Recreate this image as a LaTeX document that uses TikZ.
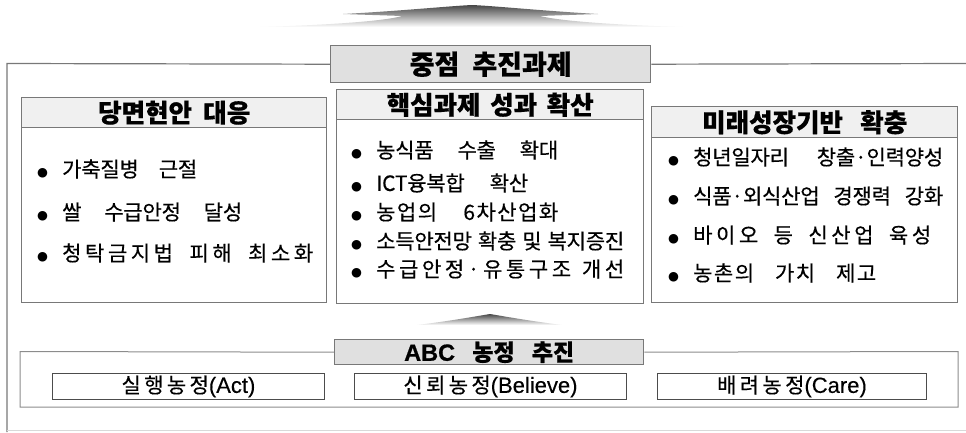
\documentclass[tikz,border=0pt]{standalone}
\usepackage{fontspec}
\setmainfont{Noto Sans CJK KR}
\newfontfamily\itemfam[LetterSpace=-1,WordSpace=1,FakeBold=0.4]{Noto Sans CJK KR}
\newfontfamily\widefam[LetterSpace=7,WordSpace=1,FakeBold=0.4]{Noto Sans CJK KR}
\newfontfamily\widerfam[LetterSpace=17,WordSpace=1,FakeBold=0.4]{Noto Sans CJK KR}
\newfontfamily\hdrfam[WordSpace=1,FakeBold=0.5]{Noto Sans CJK KR}
\newfontfamily\subfam[LetterSpace=16,FakeBold=0.35]{Noto Sans CJK KR}
\newfontfamily\latfam[FakeBold=0.3]{Liberation Sans}
\newfontfamily\latbfam[FakeBold=0.6]{Liberation Sans}
\newfontfamily\bulfam{DejaVu Sans}
\usetikzlibrary{shadings}
\newcommand{\itemfnt}{\itemfam\fontsize{21}{23}\selectfont}
\newcommand{\widefnt}{\widefam\fontsize{21}{23}\selectfont}
\newcommand{\widerfnt}{\widerfam\fontsize{21}{23}\selectfont}
\newcommand{\hdrfnt}{\hdrfam\fontsize{25.5}{27}\selectfont\bfseries}
\newcommand{\ttlfnt}{\hdrfam\fontsize{27}{29}\selectfont\bfseries}
\newcommand{\abcfnt}{\hdrfam\fontsize{23}{25}\selectfont\bfseries}
\newcommand{\subfnt}{\subfam\fontsize{21}{23}\selectfont}
\newcommand{\lat}[1]{{\latfam\fontsize{22}{24}\selectfont #1}}
\newcommand{\latb}[1]{{\latbfam\bfseries\fontsize{23.5}{25}\selectfont #1}}
\newcommand{\bul}{\makebox[25pt][l]{\bulfam\fontsize{12.5}{14}\selectfont ●}}
\newcommand{\fitw}[2]{\makebox[#1][s]{#2}}
\definecolor{hdrgray}{HTML}{F0F0F0}
\definecolor{ttlgray}{HTML}{E0E0E0}
\definecolor{lnegray}{HTML}{787878}
\begin{document}
\begin{tikzpicture}[x=1pt,y=-1pt,
  frameline/.style={draw=lnegray, line width=1.2pt},
  boxshape/.style={draw=lnegray, line width=1.4pt, anchor=north west, inner sep=0pt, fill=white},
  hdrbox/.style={boxshape, fill=hdrgray, font=\hdrfnt},
  ttlbox/.style={boxshape, fill=ttlgray, font=\ttlfnt},
  subbox/.style={draw=black!70, line width=0.9pt, anchor=north west, inner sep=0pt, font=\subfnt},
  itemtext/.style={anchor=west, inner sep=0pt, font=\itemfnt},
  widetext/.style={anchor=west, inner sep=0pt, font=\widefnt},
  widertext/.style={anchor=west, inner sep=0pt, font=\widerfnt},
  bigarrow/.style={top color=black!72, bottom color=white, draw=none}
]
\useasboundingbox (0,0) rectangle (966,432);

% top gradient arrow
\shade[bigarrow] (260,27) .. controls (330,25) and (385,21) .. (402,16) -- (343,14)
  .. controls (400,11) and (450,6) .. (472,5) .. controls (495,6) and (545,11) .. (598,14)
  -- (540,16) .. controls (560,21) and (615,25) .. (683,27) -- cycle;

% main title
\node[ttlbox, minimum width=320pt, minimum height=37pt] (ttl) at (330,45) {\fitw{162pt}{중점 추진과제}};
\coordinate (fTL) at (7,63.5);
\coordinate (fBL) at (7,432);
\coordinate (fTR) at (966,63.5);
\draw[frameline] (ttl.west) -- (fTL) -- (fBL);
\draw[frameline] (ttl.east) -- (fTR);
\coordinate (bL) at (7,430.5);
\coordinate (bR) at (966,430.5);
\draw[draw=black!15, line width=1pt] (bL) -- (bR);

% left box
\node[boxshape, minimum width=305pt, minimum height=205pt] (L) at (21,97) {};
\node[hdrbox, minimum width=305pt, minimum height=30pt] (Lh) at (21,97) {\fitw{152pt}{당면현안 대응}};
\node[itemtext] (L1) at (37,169) {\bul\fitw{135pt}{가축질병 근절}};
\node[itemtext] (L2) at (37,212) {\bul\fitw{180pt}{쌀 수급안정 달성}};
\node[widertext] (L3) at (37,253) {\bul\fitw{251pt}{청탁금지법 피해 최소화}};

% middle box
\node[boxshape, minimum width=307pt, minimum height=214pt] (M) at (336,89) {};
\node[hdrbox, minimum width=307pt, minimum height=30pt] (Mh) at (336,89) {\fitw{207pt}{핵심과제 성과 확산}};
\node[itemtext] (M1) at (351,150) {\bul\fitw{182pt}{농식품 수출 확대}};
\node[itemtext] (M2) at (351,183) {\bul\fitw{152pt}{ICT융복합 확산}};
\node[widetext] (M3) at (351,212) {\bul\fitw{182pt}{농업의 6차산업화}};
\node[itemtext] (M4) at (351,241) {\bul\fitw{248pt}{소득안전망 확충 및 복지증진}};
\node[widertext] (M5) at (351,269) {\bul\fitw{248pt}{수급안정·유통구조 개선}};

% right box
\node[boxshape, minimum width=306pt, minimum height=196pt] (R) at (651,106) {};
\node[hdrbox, minimum width=306pt, minimum height=31pt] (Rh) at (651,106) {\fitw{205pt}{미래성장기반 확충}};
\node[itemtext] (R1) at (668,157) {\bul\fitw{250pt}{청년일자리 창출·인력양성}};
\node[itemtext] (R2) at (668,196) {\bul\fitw{250pt}{식품·외식산업 경쟁력 강화}};
\node[widertext] (R3) at (668,235) {\bul\fitw{238pt}{바이오 등 신산업 육성}};
\node[widetext] (R4) at (668,273) {\bul\fitw{183pt}{농촌의 가치 제고}};

% small gradient arrow
\shade[bigarrow] (417,325) .. controls (450,321) and (478,316) .. (490,314)
  .. controls (502,316) and (530,321) .. (562,325) -- cycle;

% ABC frame
\node[ttlbox, minimum width=309pt, minimum height=25pt, font=\abcfnt] (abc) at (334,339) {\fitw{170pt}{\latb{ABC} 농정 추진}};
\coordinate (aTL) at (20,351.5);
\coordinate (aBL) at (20,407);
\coordinate (aBR) at (958,407);
\coordinate (aTR) at (958,351.5);
\draw[draw=black!45, line width=1pt] (abc.west) -- (aTL) -- (aBL) -- (aBR) -- (aTR) -- (abc.east);
\node[subbox, minimum width=272pt, minimum height=26pt] (s1) at (52,373) {실행농정\lat{(Act)}};
\node[subbox, minimum width=272pt, minimum height=26pt] (s2) at (354,373) {신뢰농정\lat{(Believe)}};
\node[subbox, minimum width=269pt, minimum height=26pt] (s3) at (657,373) {배려농정\lat{(Care)}};
\end{tikzpicture}
\end{document}
